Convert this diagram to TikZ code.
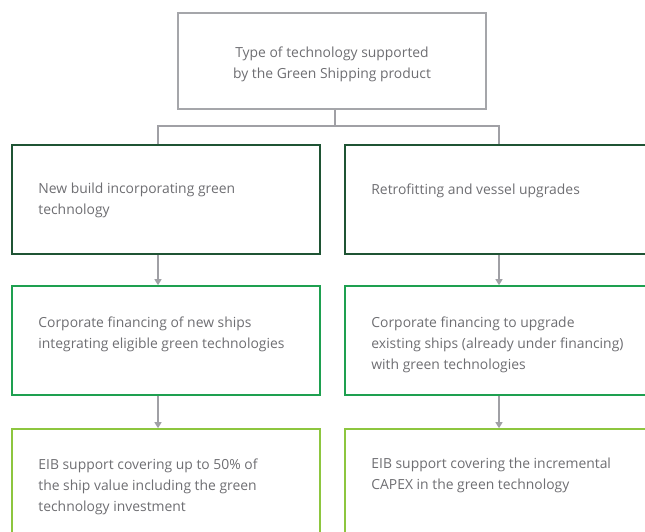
\documentclass[tikz,border=0pt]{standalone}
\usepackage{fontspec}
\setmainfont{Open Sans}
\usetikzlibrary{positioning,arrows.meta}

\definecolor{boxgray}{RGB}{165,166,170}
\definecolor{linegray}{RGB}{160,160,165}
\definecolor{darkgreen}{RGB}{31,84,52}
\definecolor{midgreen}{RGB}{30,160,80}
\definecolor{lightgreen}{RGB}{141,198,63}
\definecolor{txtgray}{RGB}{110,110,114}

\tikzset{
  box/.style={shape=rectangle, draw=#1, line width=1.6pt, minimum width=308pt, minimum height=109pt, inner sep=0pt},
  txt/.style={align=left, text=txtgray, inner sep=0pt, font=\fontsize{13.9}{21}\selectfont},
  link/.style={draw=linegray, line width=1.2pt},
  arr/.style={link, -{Triangle[width=7pt,length=6pt]}}
}

\begin{document}
\begin{tikzpicture}[x=1pt,y=-1pt]
	\useasboundingbox (0,0) rectangle (645,532);
	\clip (0,0) rectangle (645,532);
	
	\node[box=boxgray, minimum height=96pt] (top) at (332,61) {};
	\node[txt, align=center] (topt) at (332,64) {Type of technology supported\\by the Green Shipping product};
	
	\node[box=darkgreen]  (L1) at (166,199.5) {};
	\node[box=darkgreen]  (R1) at (499,199.5) {};
	\node[box=midgreen]   (L2) at (166,340.5) {};
	\node[box=midgreen]   (R2) at (499,340.5) {};
	\node[box=lightgreen] (L3) at (166,483.5) {};
	\node[box=lightgreen] (R3) at (499,483.5) {};
	
	\node[txt, below right=39pt and 27pt of L1.north west] (L1t) {New build incorporating green\\technology};
	\node[txt, below right=39pt and 27pt of R1.north west] (R1t) {Retrofitting and vessel upgrades};
	\node[txt, below right=31pt and 27pt of L2.north west] (L2t) {Corporate financing of new ships\\integrating eligible green technologies};
	\node[txt, below right=31pt and 27pt of R2.north west] (R2t) {Corporate financing to upgrade\\existing ships (already under financing)\\with green technologies};
	\node[txt, below right=30pt and 27pt of L3.north west] (L3t) {EIB support covering up to 50\% of\\the ship value including the green\\technology investment};
	\node[txt, below right=30pt and 27pt of R3.north west] (R3t) {EIB support covering the incremental\\CAPEX in the green technology};
	
	\coordinate (stem) at (335,126);
	\coordinate (busL) at (158,126);
	\coordinate (busR) at (499,126);
	
	\draw[link] ([xshift=3pt]top.south) -- (stem);
	\draw[link] (L1.north -| busL) -- (busL) -- (busR) -- (R1.north);
	
	\draw[arr] (L1.south -| busL) -- (L2.north -| busL);
	\draw[arr] (R1.south) -- (R2.north);
	\draw[arr] (L2.south -| busL) -- (L3.north -| busL);
	\draw[arr] (R2.south) -- (R3.north);
\end{tikzpicture}
\end{document}
